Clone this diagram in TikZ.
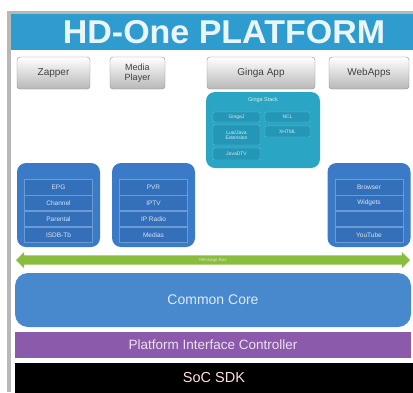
\documentclass[tikz,border=0pt]{standalone}
\usepackage{fontspec}
\setmainfont{Liberation Sans}
\usetikzlibrary{positioning, shapes.arrows}

\definecolor{titleblue}{RGB}{46,156,206}
\definecolor{gingateal}{RGB}{42,166,196}
\definecolor{gingaitem}{RGB}{36,150,182}
\definecolor{groupblue}{RGB}{58,122,198}
\definecolor{itemblue}{RGB}{52,112,186}
\definecolor{coreblue}{RGB}{72,136,204}
\definecolor{picpurple}{RGB}{140,90,170}
\definecolor{busgreen}{RGB}{138,188,62}

\begin{document}
\begin{tikzpicture}[
    x=1pt, y=-1pt,
    button/.style={draw=black!45, rounded corners=3pt, top color=white, bottom color=black!28,
      minimum height=32pt, inner sep=0pt, align=center, text=black!75,
      font=\fontsize{10}{10}\selectfont},
    group/.style={fill=groupblue, rounded corners=9pt, minimum width=83pt, minimum height=84pt, inner sep=0pt},
    item/.style={fill=itemblue, draw=groupblue!75!white, line width=0.4pt, minimum width=68pt,
      minimum height=15.5pt, inner sep=0pt, text=white!80!groupblue, font=\fontsize{6.5}{6.5}\selectfont},
    gitem/.style={fill=gingaitem, draw=gingateal!70!white, line width=0.4pt, rounded corners=1pt,
      inner sep=0pt, align=center, text=white!80!gingateal, font=\fontsize{5}{5.5}\selectfont},
    layer/.style={minimum width=396pt, inner sep=0pt}
  ]

  \useasboundingbox (0,0) rectangle (413,392);

  % --- FRAME AND TITLE ---
  \fill[black!28] (7,11) rectangle (413,392);
  \fill[white] (11,14) rectangle (413,392);
  \node[fill=titleblue, minimum width=402pt, minimum height=36pt, inner sep=0pt] (titlebar) at (212,32) {};
  \node[text=white!90!titleblue, font=\fontsize{33}{33}\selectfont\bfseries, xscale=1.03] (title) at (224,32) {HD-One PLATFORM};

  % --- APPLICATIONS ---
  \node[button, minimum width=73pt] (zapper) at (53.5,73) {Zapper};
  \node[button, minimum width=55pt, font=\fontsize{9}{9.5}\selectfont] (media) at (137.5,73) {Media\\Player};
  \node[button, minimum width=108pt] (gingaapp) at (261,73) {Ginga App};
  \node[button, minimum width=80pt] (webapps) at (369,73) {WebApps};

  % --- GINGA STACK ---
  \node[fill=gingateal, rounded corners=9pt, minimum width=114pt, minimum height=76pt] (stack) at (263,130) {};
  \node[text=white!80!gingateal, font=\fontsize{5.5}{5.5}\selectfont] (stacktitle) at (263,100) {Ginga Stack};
  \node[gitem, minimum width=47pt, minimum height=10pt] (gingaj) at (236.5,117) {GingaJ};
  \node[gitem, minimum width=47pt, minimum height=20pt] (luaext) at (236.5,135) {Lua/Java\\Extension};
  \node[gitem, minimum width=47pt, minimum height=12pt] (javadtv) at (236.5,154) {JavaDTV};
  \node[gitem, minimum width=45pt, minimum height=10pt] (ncl) at (287.5,117) {NCL};
  \node[gitem, minimum width=45pt, minimum height=11pt] (xhtml) at (287.5,131.5) {XHTML};

  % --- SERVICE GROUPS ---
  \node[group] (tvgroup) at (58.5,205) {};
  \node[item] (epg) at (58.5,187) {EPG};
  \node[item, below=0pt of epg] (channel) {Channel};
  \node[item, below=0pt of channel] (parental) {Parental};
  \node[item, below=0pt of parental] (isdb) {ISDB-Tb};

  \node[group] (mediagroup) at (153.5,205) {};
  \node[item] (pvr) at (153.5,187) {PVR};
  \node[item, below=0pt of pvr] (iptv) {IPTV};
  \node[item, below=0pt of iptv] (radio) {IP Radio};
  \node[item, below=0pt of radio] (medias) {Medias};

  \node[group] (webgroup) at (369,205) {};
  \node[item] (browser) at (369,187) {Browser};
  \node[item, below=0pt of browser] (widgets) {Widgets};
  \node[item, below=0pt of widgets] (gap) {};
  \node[item, below=0pt of gap] (youtube) {YouTube};

  % --- BUS ---
  \node[double arrow, fill=busgreen, minimum height=394pt, minimum width=16pt,
    double arrow head extend=3.5pt, inner sep=2.5pt, text=white!70!busgreen,
    font=\fontsize{4.5}{4.5}\selectfont] (bus) at (213,260) {Message Bus};

  % --- LOWER LAYERS ---
  \node[layer, fill=coreblue, rounded corners=13pt, minimum height=54pt, text=white!82!coreblue,
    font=\fontsize{14}{14}\selectfont] (core) at (213,300) {Common Core};
  \node[layer, fill=picpurple, minimum height=26pt, text=white!82!picpurple,
    font=\fontsize{13.5}{13.5}\selectfont] (pic) at (213,345) {Platform Interface Controller};
  \node[layer, fill=black, minimum width=398pt, minimum height=30pt, text=white!88!red,
    font=\fontsize{14.5}{14.5}\selectfont] (soc) at (214,378) {SoC SDK};

\end{tikzpicture}
\end{document}
